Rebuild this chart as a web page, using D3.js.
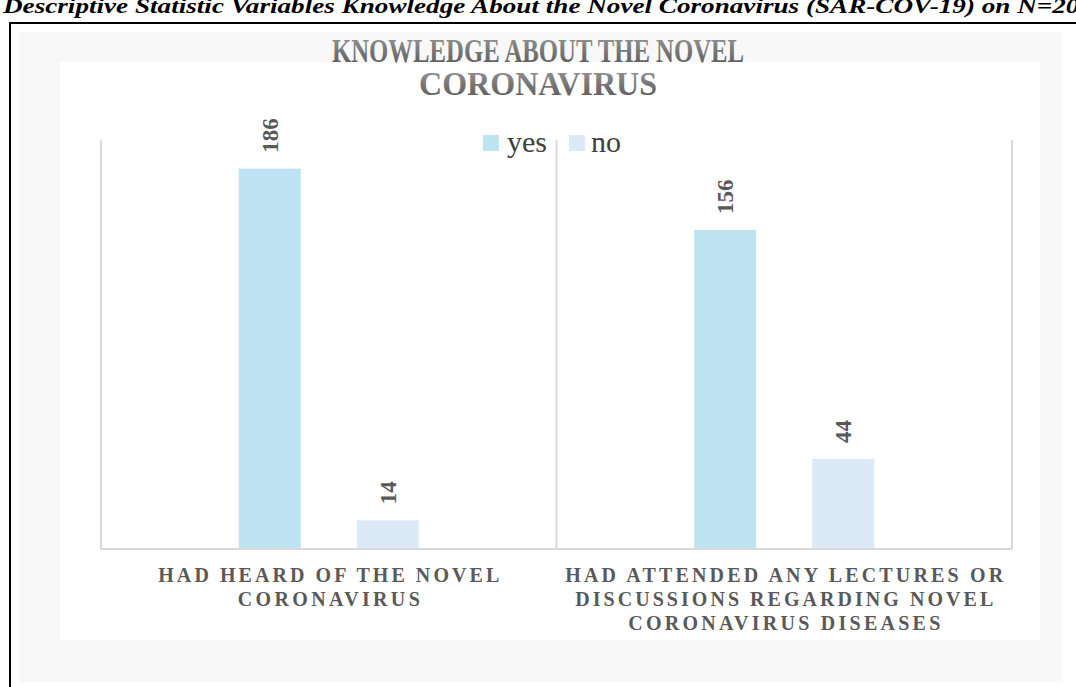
<!DOCTYPE html>
<html>
<head>
<meta charset="utf-8">
<script src="https://cdn.jsdelivr.net/npm/d3@7"></script>
<style>
  html, body { margin: 0; padding: 0; background: #ffffff; overflow: hidden; }
  svg { display: block; }
</style>
</head>
<body>
<svg id="chart" width="1076" height="687"></svg>
<script>
// Data
const categories = [
  ["HAD HEARD OF THE NOVEL", "CORONAVIRUS"],
  ["HAD ATTENDED ANY LECTURES OR", "DISCUSSIONS REGARDING NOVEL", "CORONAVIRUS DISEASES"]
];
const categoryKeys = ["heard", "attended"];
const seriesNames = ["yes", "no"];
const yesValues = [186, 156];
const noValues = [14, 44];
const yDomain = [0, 200];
const captionText = "Descriptive Statistic Variables Knowledge About the Novel Coronavirus (SAR-COV-19) on N=200";
const titleLines = ["KNOWLEDGE ABOUT THE NOVEL", "CORONAVIRUS"];

// Layout and styles
const W = 1076, H = 687;
const plot = { left: 101, right: 1012, top: 140, bottom: 549 };
const colors = { yes: "#bee3f3", no: "#dceaf7" };
const axisColor = "#d9d9d9";
const textGray = "#595959";
const serif = "'Liberation Serif', 'Times New Roman', serif";

const svg = d3.select("#chart");

const defs = svg.append("defs");
const grad = defs.append("linearGradient")
  .attr("id", "titleGrad").attr("x1", 0).attr("y1", 0).attr("x2", 0).attr("y2", 1);
grad.append("stop").attr("offset", "0%").attr("stop-color", "#9a9a9a");
grad.append("stop").attr("offset", "100%").attr("stop-color", "#555555");

// Caption above the framed figure
svg.append("text")
  .attr("x", 3).attr("y", 13)
  .attr("font-family", serif).attr("font-weight", "bold").attr("font-style", "italic")
  .attr("font-size", 22).attr("fill", "#000")
  .attr("textLength", 1090).attr("lengthAdjust", "spacingAndGlyphs")
  .text(captionText);

// Figure frame
svg.append("rect")
  .attr("x", 10).attr("y", 23).attr("width", 1100).attr("height", 700)
  .attr("fill", "#ffffff").attr("stroke", "#000").attr("stroke-width", 2);

// Chart area background and plot panel
svg.append("rect")
  .attr("x", 19).attr("y", 32).attr("width", 1043).attr("height", 650)
  .attr("fill", "#f8f8f8");
svg.append("rect")
  .attr("x", 60).attr("y", 62).attr("width", 980).attr("height", 578)
  .attr("fill", "#ffffff");

// Title
const titleSpecs = [
  { y: 62, len: 412 },
  { y: 95, len: 238 }
];
svg.append("g").selectAll("text")
  .data(titleLines)
  .join("text")
  .attr("x", 538)
  .attr("y", (d, i) => titleSpecs[i].y)
  .attr("text-anchor", "middle")
  .attr("font-family", serif).attr("font-weight", "bold").attr("font-size", 33)
  .attr("fill", "url(#titleGrad)")
  .attr("textLength", (d, i) => titleSpecs[i].len)
  .attr("lengthAdjust", "spacingAndGlyphs")
  .text(d => d);

// Scales
const x0 = d3.scaleBand()
  .domain(categoryKeys)
  .range([plot.left, plot.right])
  .paddingInner(0).paddingOuter(0);

const x1 = d3.scaleBand()
  .domain(seriesNames)
  .range([0, x0.bandwidth()])
  .paddingInner(0.4746)
  .paddingOuter(1.167);

const y = d3.scaleLinear().domain(yDomain).range([plot.bottom, plot.top]);

// Category separators (vertical gridlines at band edges)
const edges = categoryKeys.map(k => x0(k)).concat([x0(categoryKeys[categoryKeys.length - 1]) + x0.bandwidth()]);
svg.append("g").selectAll("line")
  .data(edges)
  .join("line")
  .attr("x1", d => d).attr("x2", d => d)
  .attr("y1", y(yDomain[1])).attr("y2", y(0))
  .attr("stroke", axisColor).attr("stroke-width", 2);

// Bars
const rows = categoryKeys.map((k, i) => ({ key: k, yes: yesValues[i], no: noValues[i] }));
const groups = svg.append("g").selectAll("g")
  .data(rows)
  .join("g")
  .attr("transform", d => `translate(${x0(d.key)},0)`);

groups.selectAll("rect")
  .data(d => seriesNames.map(s => ({ s, v: d[s] })))
  .join("rect")
  .attr("x", d => x1(d.s))
  .attr("width", x1.bandwidth())
  .attr("y", d => y(d.v))
  .attr("height", d => y(0) - y(d.v))
  .attr("fill", d => colors[d.s]);

// Value labels, rotated
groups.selectAll("text.value")
  .data(d => seriesNames.map(s => ({ s, v: d[s] })))
  .join("text")
  .attr("class", "value")
  .attr("transform", d => `translate(${x1(d.s) + x1.bandwidth() / 2},${y(d.v) - 16}) rotate(-90)`)
  .attr("dy", "0.35em")
  .attr("text-anchor", "start")
  .attr("font-family", serif).attr("font-weight", "bold").attr("font-size", 23)
  .attr("fill", textGray)
  .text(d => d.v);

// Baseline axis
svg.append("line")
  .attr("x1", plot.left).attr("x2", plot.right)
  .attr("y1", y(0)).attr("y2", y(0))
  .attr("stroke", axisColor).attr("stroke-width", 2);

// Category labels
const labelLens = [[341, 182], [438, 418, 312]];
categoryKeys.forEach((k, i) => {
  svg.append("g").selectAll("text")
    .data(categories[i])
    .join("text")
    .attr("x", x0(k) + x0.bandwidth() / 2)
    .attr("y", (d, j) => 582 + j * 24)
    .attr("text-anchor", "middle")
    .attr("font-family", serif).attr("font-weight", "bold").attr("font-size", 20)
    .attr("fill", textGray)
    .attr("textLength", (d, j) => labelLens[i][j])
    .attr("lengthAdjust", "spacing")
    .text(d => d);
});

// Legend
const legendItems = [
  { name: "yes", sx: 483, tx: 507 },
  { name: "no", sx: 569, tx: 591 }
];
const legend = svg.append("g");
legend.selectAll("rect")
  .data(legendItems)
  .join("rect")
  .attr("x", d => d.sx).attr("y", 135)
  .attr("width", 16).attr("height", 16)
  .attr("fill", d => colors[d.name]);
legend.selectAll("text")
  .data(legendItems)
  .join("text")
  .attr("x", d => d.tx).attr("y", 152)
  .attr("font-family", serif).attr("font-size", 30)
  .attr("fill", "#404040")
  .text(d => d.name);
</script>
</body>
</html>
